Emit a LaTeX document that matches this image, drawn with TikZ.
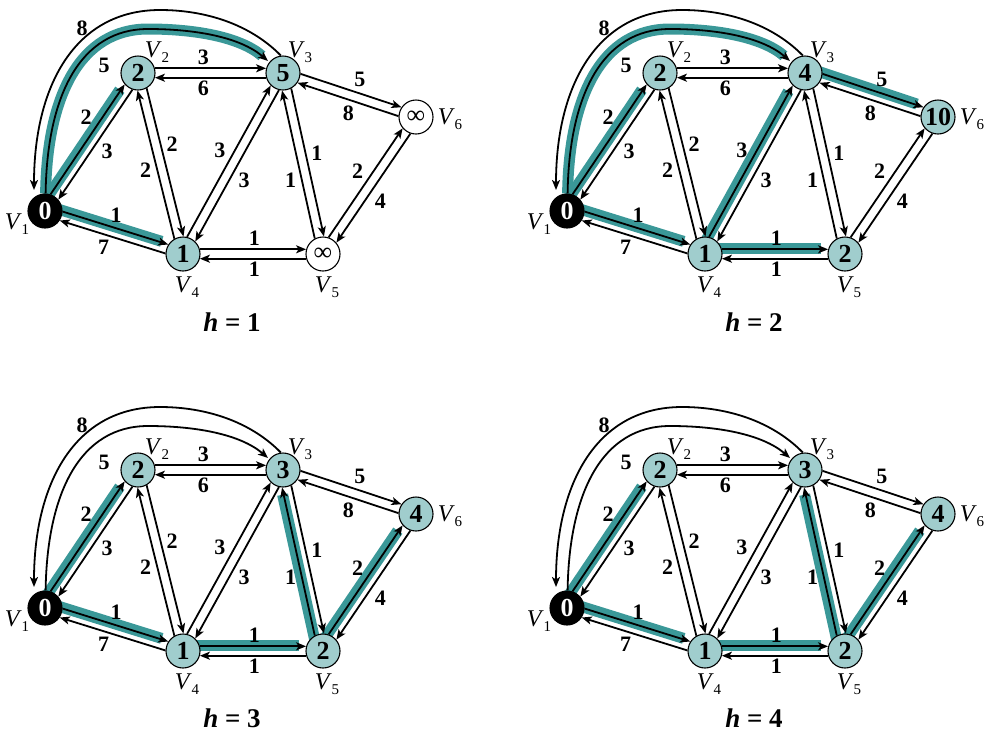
\documentclass[tikz,border=0pt]{standalone}
\usepackage{fontspec}
\setmainfont{Liberation Serif}
\usetikzlibrary{arrows.meta,calc,backgrounds}
\definecolor{nodefill}{RGB}{160,205,205}
\definecolor{hlteal}{RGB}{58,152,152}
\tikzset{
  vtx/.style={circle, draw=black, line width=1.1pt, fill=nodefill, minimum size=34pt, inner sep=0pt, font=\fontsize{26}{26}\selectfont\bfseries},
  vsrc/.style={vtx, fill=black, text=white},
  vinf/.style={vtx, fill=white, font=\fontsize{26}{26}\selectfont},
  edge/.style={line width=1.8pt, -{Stealth[length=10pt,width=8pt,inset=2.5pt]}, shorten <=16.9pt, shorten >=16.9pt},
  arcedge/.style={line width=1.8pt, -{Stealth[length=10pt,width=8pt,inset=2.5pt]}},
  wlab/.style={font=\fontsize{22}{22}\selectfont\bfseries, inner sep=2.5pt, auto=left},
  alab/.style={font=\fontsize{22}{22}\selectfont\bfseries, inner sep=0pt},
  band/.style={line width=11pt, hlteal, shorten >=24pt},
  arcband/.style={line width=11pt, hlteal, shorten >=8pt},
  vlab/.style={inner sep=0pt, font=\fontsize{24}{24}\selectfont},
  captxt/.style={font=\fontsize{27}{27}\selectfont\bfseries, inner sep=0pt, anchor=base}
}
\newcommand\vl[1]{\textit{V}\raisebox{-0.22em}{\fontsize{15}{15}\selectfont #1}}
\newcommand\de[4]{\draw[edge] ($(#1)!4.7pt!90:(#2)$) -- node[wlab,pos=#4]{#3} ($(#2)!4.7pt!-90:(#1)$);}
\newcommand\hl[2]{\begin{pgfonlayer}{background}\draw[band] ($(#1)!5.7pt!90:(#2)$) -- ($(#2)!5.7pt!-90:(#1)$);\end{pgfonlayer}}
\newcommand\innerarcpath[1]{(#1v1.88) .. controls ($(#1v1)+(2,-115)$) and ($(#1v1)+(35,-182)$) .. ($(#1v1)+(103,-182)$) .. controls ($(#1v1)+(150,-182)$) and ($(#1v1)+(195,-174)$) .. ($(#1v1)+(223,-150)$)}
\newcommand\hlarc[1]{\begin{pgfonlayer}{background}\draw[arcband] \innerarcpath{#1};\end{pgfonlayer}}
\newcommand\alledges[1]{%
  \de{#1v1}{#1v2}{2}{0.58}
  \de{#1v2}{#1v1}{3}{0.47}
  \de{#1v2}{#1v3}{3}{0.45}
  \de{#1v3}{#1v2}{6}{0.55}
  \de{#1v4}{#1v2}{2}{0.53}
  \de{#1v2}{#1v4}{2}{0.46}
  \de{#1v4}{#1v3}{3}{0.50}
  \de{#1v3}{#1v4}{3}{0.52}
  \de{#1v5}{#1v3}{1}{0.47}
  \de{#1v3}{#1v5}{1}{0.51}
  \de{#1v3}{#1v6}{5}{0.50}
  \de{#1v6}{#1v3}{8}{0.43}
  \de{#1v5}{#1v6}{2}{0.51}
  \de{#1v6}{#1v5}{4}{0.52}
  \de{#1v1}{#1v4}{1}{0.44}
  \de{#1v4}{#1v1}{7}{0.50}
  \de{#1v4}{#1v5}{1}{0.51}
  \de{#1v5}{#1v4}{1}{0.49}
  \draw[arcedge] (#1v3.97) .. controls ($(#1v1)+(205,-187)$) and ($(#1v1)+(160,-201)$) .. ($(#1v1)+(115,-201)$) .. controls ($(#1v1)+(30,-201)$) and ($(#1v1)+(-11,-125)$) .. ($(#1v1)+(-11,-21)$);
  \draw[arcedge] \innerarcpath{#1};
  \node[alab] (#1w8) at ($(#1v1)+(37,-183)$) {8};
  \node[alab] (#1w5) at ($(#1v1)+(59,-146)$) {5};
  \node[vlab] (#1l1) at ($(#1v1)+(-28,13)$) {\vl1};
  \node[vlab] (#1l2) at ($(#1v2)+(19,-21)$) {\vl2};
  \node[vlab] (#1l3) at ($(#1v3)+(17,-21)$) {\vl3};
  \node[vlab] (#1l4) at ($(#1v4)+(4,33)$) {\vl4};
  \node[vlab] (#1l5) at ($(#1v5)+(4,33)$) {\vl5};
  \node[vlab] (#1l6) at ($(#1v6)+(34,2)$) {\vl6};
}
\begin{document}
\begin{tikzpicture}[x=1pt,y=-1pt]
\useasboundingbox (0,0) rectangle (986,732);
% panel h=1
\begin{scope}
  \node[vsrc] (av1) at (45,211) {0};
  \node[vtx]  (av2) at (138,73) {2};
  \node[vtx]  (av3) at (283,73) {5};
  \node[vtx]  (av4) at (183,254) {1};
  \node[vinf] (av5) at (323,254) {∞};
  \node[vinf] (av6) at (416,117) {∞};
  \alledges{a}
  \hl{av1}{av2} \hl{av1}{av4} \hlarc{a}
  \node[captxt] (capa) at (232,331) {\textit{h} = 1};
\end{scope}
% panel h=2
\begin{scope}[shift={(522,0)}]
  \node[vsrc] (bv1) at (45,211) {0};
  \node[vtx]  (bv2) at (138,73) {2};
  \node[vtx]  (bv3) at (283,73) {4};
  \node[vtx]  (bv4) at (183,254) {1};
  \node[vtx]  (bv5) at (323,254) {2};
  \node[vtx]  (bv6) at (416,117) {10};
  \alledges{b}
  \hl{bv1}{bv2} \hl{bv1}{bv4} \hl{bv4}{bv3} \hl{bv3}{bv6} \hl{bv4}{bv5} \hlarc{b}
  \node[captxt] (capb) at (232,331) {\textit{h} = 2};
\end{scope}
% panel h=3
\begin{scope}[shift={(0,397)}]
  \node[vsrc] (cv1) at (45,211) {0};
  \node[vtx]  (cv2) at (138,73) {2};
  \node[vtx]  (cv3) at (283,73) {3};
  \node[vtx]  (cv4) at (183,254) {1};
  \node[vtx]  (cv5) at (323,254) {2};
  \node[vtx]  (cv6) at (416,117) {4};
  \alledges{c}
  \hl{cv1}{cv2} \hl{cv1}{cv4} \hl{cv4}{cv5} \hl{cv5}{cv3} \hl{cv5}{cv6}
  \node[captxt] (capc) at (232,330) {\textit{h} = 3};
\end{scope}
% panel h=4
\begin{scope}[shift={(522,397)}]
  \node[vsrc] (dv1) at (45,211) {0};
  \node[vtx]  (dv2) at (138,73) {2};
  \node[vtx]  (dv3) at (283,73) {3};
  \node[vtx]  (dv4) at (183,254) {1};
  \node[vtx]  (dv5) at (323,254) {2};
  \node[vtx]  (dv6) at (416,117) {4};
  \alledges{d}
  \hl{dv1}{dv2} \hl{dv1}{dv4} \hl{dv4}{dv5} \hl{dv5}{dv3} \hl{dv5}{dv6}
  \node[captxt] (capd) at (232,330) {\textit{h} = 4};
\end{scope}
\end{tikzpicture}
\end{document}
